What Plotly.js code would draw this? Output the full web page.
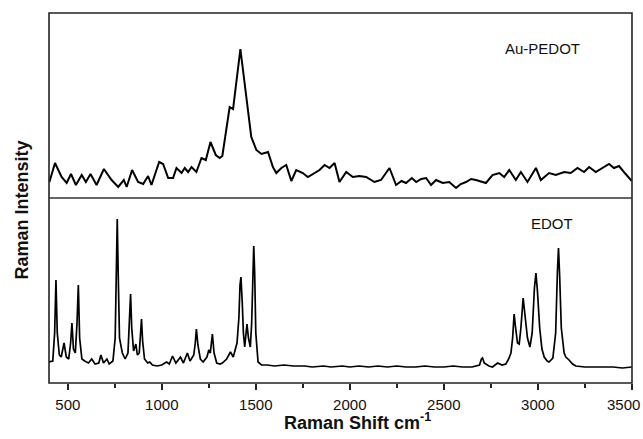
<!DOCTYPE html>
<html>
<head>
<meta charset="utf-8">
<script src="https://cdn.plot.ly/plotly-3.0.1.min.js"></script>
<style>html,body{margin:0;padding:0;background:#fff;}#chart{width:643px;height:439px;}</style>
</head>
<body>
<div id="chart"></div>
<script>
// Au-PEDOT spectrum (top panel), Raman shift (cm-1) and intensity (a.u.)
const pedotShift = [402,432,467,494,517,543,574,596,621,653,692,733,768,798,813,842,874,901,927,945,986,1007,1034,1060,1078,1105,1122,1140,1158,1184,1211,1234,1259,1287,1308,1322,1361,1379,1418,1446,1476,1503,1530,1565,1591,1609,1636,1662,1689,1715,1750,1777,1812,1839,1866,1892,1919,1945,1981,2016,2050,2087,2131,2166,2211,2246,2275,2299,2330,2353,2380,2406,2432,2459,2494,2529,2565,2590,2618,2645,2671,2700,2724,2759,2795,2821,2848,2883,2910,2945,2990,3016,3060,3096,3140,3175,3211,3246,3273,3308,3343,3379,3405,3432,3458,3494,3500];
const pedotInt = [16,35,21,15,24,13,23,16,24,13,29,18,11,18,11,28,16,14,22,13,36,34,20,20,30,25,30,26,31,26,40,38,56,43,40,42,91,89,149,108,61,48,44,46,31,25,30,33,17,28,25,21,25,28,33,30,35,16,26,21,22,21,16,18,30,13,17,15,20,16,19,20,13,18,15,16,10,14,16,19,18,16,15,23,25,21,28,18,26,16,30,18,25,23,26,25,30,26,31,26,30,34,30,32,26,18,17];

// EDOT spectrum (bottom panel)
const edotShift = [400,420,430,437,444,455,465,480,492,505,515,522,530,540,549,556,563,575,590,610,627,645,665,676,690,708,720,740,752,758,763,768,775,790,805,820,828,834,840,850,862,870,880,886,892,898,908,925,936,950,975,1000,1025,1040,1057,1075,1099,1115,1136,1150,1170,1178,1184,1192,1205,1220,1240,1250,1258,1269,1278,1292,1310,1322,1345,1365,1380,1400,1410,1416,1421,1428,1434,1441,1447,1453,1461,1471,1478,1484,1489,1494,1500,1512,1530,1560,1600,1650,1700,1760,1800,1860,1900,1960,2000,2050,2100,2150,2200,2250,2300,2350,2400,2450,2500,2550,2600,2650,2690,2700,2706,2715,2740,2759,2786,2810,2830,2845,2857,2866,2874,2882,2892,2901,2910,2922,2932,2945,2958,2970,2982,2990,2998,3010,3022,3034,3050,3060,3080,3095,3104,3110,3116,3125,3140,3149,3166,3185,3202,3250,3300,3350,3400,3450,3500];
const edotInt = [21,22,50,103,50,28,26,40,26,24,40,60,34,30,60,98,45,24,22,20,24,19,20,28,20,24,19,22,45,110,164,110,45,30,24,30,60,89,55,32,39,28,30,45,64,42,24,20,21,18,17,18,21,19,27,20,26,20,30,22,28,40,54,38,24,21,26,33,30,49,30,20,19,20,24,31,26,40,65,98,106,80,50,36,48,59,45,36,60,110,137,110,50,21,18,18,17,18,17,17,16,17,16,17,16,17,16,17,16,17,16,16,17,16,16,17,16,16,18,24,25,20,17,16,20,18,19,24,30,45,69,55,40,39,55,85,70,45,36,50,95,110,92,55,34,26,22,21,25,50,110,135,108,55,30,26,23,19,17,16,16,16,16,15,16];

const xTicks = [500,1000,1500,2000,2500,3000,3500];
const xTickLabels = ['500','1000','1500','2000','2500','3000','3500'];
const xMinorTicks = [750,1250,1750,2250,2750,3250];

const traces = [
  {x: pedotShift, y: pedotInt, xaxis: 'x', yaxis: 'y2', type: 'scatter', mode: 'lines',
   line: {color: '#000', width: 2}, hoverinfo: 'skip'},
  {x: edotShift, y: edotInt, xaxis: 'x', yaxis: 'y', type: 'scatter', mode: 'lines',
   line: {color: '#000', width: 1.7}, hoverinfo: 'skip'}
];

const fam = 'Liberation Sans, Arial, sans-serif';

// last label would run past the page edge: draw it right-aligned at the edge instead
const lastIdx = xTicks.length - 1;
const shownLabels = xTickLabels.map((t, i) => i === lastIdx ? '' : t);

const layout = {
  width: 643, height: 439,
  margin: {l: 49, r: 11, t: 13, b: 56},
  paper_bgcolor: '#fff', plot_bgcolor: '#fff',
  showlegend: false,
  font: {family: fam, color: '#111'},
  xaxis: {
    range: [400, 3501], anchor: 'y',
    tickvals: xTicks, ticktext: shownLabels,
    ticks: 'outside', ticklen: 6, tickwidth: 1.6, tickcolor: '#222',
    minor: {tickvals: xMinorTicks, ticks: 'outside', ticklen: 4, tickwidth: 1.6, tickcolor: '#222'},
    showgrid: false, zeroline: false, showline: false,
    ticklabelstandoff: 2,
    tickfont: {family: fam, size: 15, color: '#111'}
  },
  yaxis: {domain: [0, 0.5], range: [0, 185], anchor: 'x', showticklabels: false, ticks: '',
          showgrid: false, zeroline: false, showline: false},
  yaxis2: {domain: [0.5, 1], range: [0, 185], anchor: 'x', showticklabels: false, ticks: '',
           showgrid: false, zeroline: false, showline: false},
  shapes: [
    {type: 'rect', xref: 'paper', yref: 'paper', x0: 0, x1: 1, y0: 0, y1: 1,
     line: {color: '#222', width: 1.6}},
    {type: 'line', xref: 'paper', yref: 'paper', x0: 0, x1: 1, y0: 0.5, y1: 0.5,
     line: {color: '#333', width: 1.4}}
  ],
  annotations: [
    {text: xTickLabels[lastIdx], xref: 'paper', yref: 'paper', x: 1.0175, y: -0.058, xanchor: 'right', yanchor: 'middle',
     showarrow: false, font: {family: fam, size: 15, color: '#111'}},
    {text: 'Au-PEDOT', xref: 'paper', yref: 'paper', x: 0.847, y: 0.905, xanchor: 'center', yanchor: 'middle',
     showarrow: false, font: {family: fam, size: 15, color: '#111'}},
    {text: 'EDOT', xref: 'paper', yref: 'paper', x: 0.863, y: 0.430, xanchor: 'center', yanchor: 'middle',
     showarrow: false, font: {family: fam, size: 15, color: '#111'}},
    {text: '<b>Raman Intensity</b>', xref: 'paper', yref: 'paper', x: -0.047, y: 0.468, xanchor: 'center', yanchor: 'middle',
     textangle: -90, showarrow: false, font: {family: fam, size: 18, color: '#111'}},
    {text: '<b>Raman Shift cm<sup>-1</sup></b>', xref: 'paper', yref: 'paper', x: 0.530, y: -0.105, xanchor: 'center', yanchor: 'middle',
     showarrow: false, font: {family: fam, size: 18, color: '#111'}}
  ]
};

Plotly.newPlot('chart', traces, layout, {displayModeBar: false, staticPlot: true});
</script>
</body>
</html>
